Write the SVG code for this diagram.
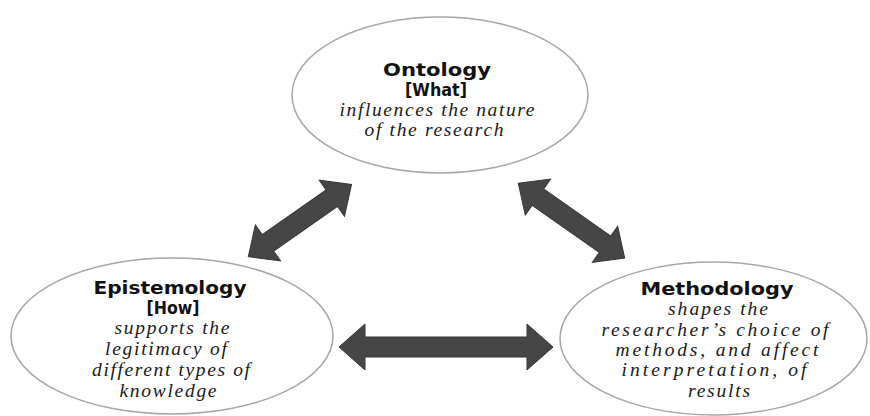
<svg xmlns="http://www.w3.org/2000/svg" width="870" height="416" viewBox="0 0 870 416">
  <style>
    .node { fill: #ffffff; stroke: #a6a6a6; stroke-width: 1.5; }
    .title { font-family: "DejaVu Sans", "Liberation Sans", sans-serif; font-weight: bold; font-size: 17px; fill: #111; text-anchor: middle; }
    .desc { font-family: "Liberation Serif", "Times New Roman", serif; font-style: italic; font-size: 19.5px; fill: #1a1a1a; text-anchor: middle; }
    .arrow { fill: #464646; stroke: #363636; stroke-width: 1; stroke-linejoin: miter; }
  </style>
  <rect width="870" height="416" fill="#ffffff"/>

  <g id="connectors">
    <polygon class="arrow" transform="translate(248.3,256.7) rotate(-35)" points="0,0 24,-22 24,-10 102,-10 102,-22 126,0 102,22 102,10 24,10 24,22"/>
    <polygon class="arrow" transform="translate(518.3,183.3) rotate(35.1)" points="0,0 24,-22 24,-10 106,-10 106,-22 130,0 106,22 106,10 24,10 24,22"/>
    <polygon class="arrow" transform="translate(339,347)" points="0,0 26,-23 26,-10 188,-10 188,-23 214,0 188,23 188,10 26,10 26,23"/>
  </g>

  <g id="ontology">
    <ellipse class="node" cx="440" cy="95" rx="148" ry="78"/>
    <text class="title" x="437" y="76" textLength="108" lengthAdjust="spacingAndGlyphs">Ontology</text>
    <text class="title" x="436" y="96" textLength="62" lengthAdjust="spacingAndGlyphs">[What]</text>
    <text class="desc" x="437" y="116" textLength="195">influences the nature</text>
    <text class="desc" x="434" y="136" textLength="139">of the research</text>
  </g>

  <g id="epistemology">
    <ellipse class="node" cx="172" cy="336" rx="161" ry="78"/>
    <text class="title" x="170" y="294" textLength="153" lengthAdjust="spacingAndGlyphs">Epistemology</text>
    <text class="title" x="173" y="314" textLength="53" lengthAdjust="spacingAndGlyphs">[How]</text>
    <text class="desc" x="172" y="334" textLength="115">supports the</text>
    <text class="desc" x="166" y="355" textLength="122">legitimacy of</text>
    <text class="desc" x="171" y="376" textLength="158">different types of</text>
    <text class="desc" x="168" y="397" textLength="97">knowledge</text>
  </g>

  <g id="methodology">
    <ellipse class="node" cx="713.5" cy="338.5" rx="153.5" ry="76.5"/>
    <text class="title" x="717" y="295" textLength="153" lengthAdjust="spacingAndGlyphs">Methodology</text>
    <text class="desc" x="718" y="315" textLength="100">shapes the</text>
    <text class="desc" x="715" y="336" textLength="227">researcher’s choice of</text>
    <text class="desc" x="717" y="356" textLength="203">methods, and affect</text>
    <text class="desc" x="714" y="376" textLength="185">interpretation, of</text>
    <text class="desc" x="719" y="397" textLength="62">results</text>
  </g>
</svg>
